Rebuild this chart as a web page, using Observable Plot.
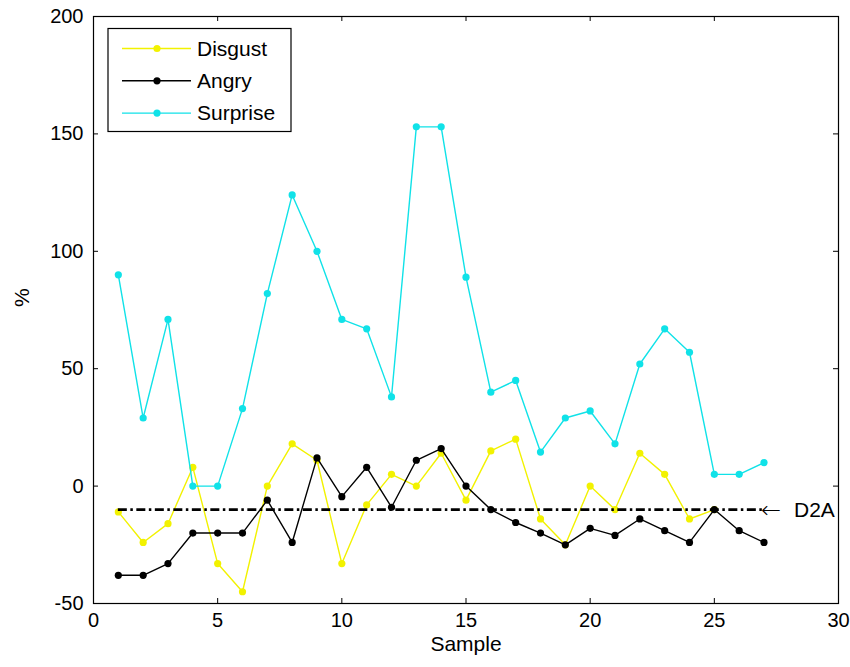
<!DOCTYPE html>
<html><head><meta charset="utf-8">
<script src="https://cdn.jsdelivr.net/npm/d3@7"></script>
<script src="https://cdn.jsdelivr.net/npm/@observablehq/plot@0.6"></script>
<style>body{margin:0;background:#fff}#chart svg{display:block}</style>
</head><body><div id="chart"></div>
<script>
const samples = [1,2,3,4,5,6,7,8,9,10,11,12,13,14,15,16,17,18,19,20,21,22,23,24,25,26,27];
const disgust = [-11,-24,-16,8,-33,-45,0,18,11,-33,-8,5,0,14,-6,15,20,-14,-25,0,-10,14,5,-14,-10];
const angry = [-38,-38,-33,-20,-20,-20,-6,-24,12,-4.5,8,-9,11,16,0,-10,-15.5,-20,-25,-18,-21,-14,-19,-24,-10,-19,-24];
const surprise = [90,29,71,0,0,33,82,124,100,71,67,38,153,153,89,40,45,14.5,29,32,18,52,67,57,5,5,10];
const d2aLevel = -10;
const d2aArrow = "\u2190";
const d2aLabel = "D2A";
const seriesNames = ["Disgust", "Angry", "Surprise"];
const seriesColors = ["#f2f200", "#000000", "#10e2e8"];
const xTicks = [0, 5, 10, 15, 20, 25, 30];
const yTicks = [-50, 0, 50, 100, 150, 200];
const xLabel = "Sample";
const yLabel = "%";

const seriesValues = [disgust, angry, surprise];
const series = seriesNames.map((name, k) => ({
  name, color: seriesColors[k],
  rows: seriesValues[k].map((v, i) => ({sample: samples[i], value: v}))
}));

const W = 850, H = 667, mL = 93, mR = 12, mT = 16, mB = 64;
const fw = W - mL - mR, fh = H - mT - mB, tk = 5;
const font = "'Liberation Sans', Arial, Helvetica, sans-serif";
const lastSample = samples[samples.length - 1];

const plot = Plot.plot({
  width: W, height: H,
  marginLeft: mL, marginRight: mR, marginTop: mT, marginBottom: mB,
  style: {fontFamily: font, fontSize: "20px", background: "#fff", color: "#000"},
  x: {domain: [0, 30]},
  y: {domain: [-50, 200]},
  marks: [
    Plot.axisX(xTicks, {tickSize: 0, tickPadding: 9, label: null, tickFormat: d => String(d)}),
    Plot.axisY(yTicks, {tickSize: 0, tickPadding: 10, label: null, tickFormat: d => String(d)}),
    Plot.ruleX(xTicks, {x: d => d, insetTop: fh - tk, stroke: "#000"}),
    Plot.ruleX(xTicks, {x: d => d, insetBottom: fh - tk, stroke: "#000"}),
    Plot.ruleY(yTicks, {y: d => d, insetRight: fw - tk, stroke: "#000"}),
    Plot.ruleY(yTicks, {y: d => d, insetLeft: fw - tk, stroke: "#000"}),
    ...series.flatMap(s => [
      Plot.line(s.rows, {x: "sample", y: "value", stroke: s.color, strokeWidth: 1.4}),
      Plot.dot(s.rows, {x: "sample", y: "value", fill: s.color, r: 3.6})
    ]),
    Plot.ruleY([d2aLevel], {y: d => d, x1: samples[0], x2: lastSample,
      stroke: "#000", strokeWidth: 2.8, strokeDasharray: "9,3.5,2.5,3.5"}),
    Plot.text([d2aArrow], {x: lastSample, y: d2aLevel, text: d => d, textAnchor: "start",
      dx: -3, dy: 1, fontSize: 24, fontFamily: "'DejaVu Sans'", fontWeight: 300, fill: "#000"}),
    Plot.text([d2aLabel], {x: lastSample, y: d2aLevel, text: d => d,
      textAnchor: "start", dx: 30, dy: 1, fontSize: 21, fill: "#000"}),
    Plot.text([xLabel], {frameAnchor: "bottom", text: d => d, dy: 47, fontSize: 21, fill: "#000"}),
    Plot.text([yLabel], {frameAnchor: "left", text: d => d, dx: -71, dy: -3, rotate: -90, fontSize: 21, fill: "#000"}),
    Plot.frame({stroke: "#000", strokeWidth: 1.2})
  ]
});

// legend (inside the plot area, top-left)
const svg = d3.select(plot);
const lg = svg.append("g").attr("transform", `translate(${mL + 15},${mT + 12.5})`);
lg.append("rect").attr("width", 183).attr("height", 103).attr("fill", "#fff").attr("stroke", "#000").attr("stroke-width", 1.2);
series.forEach((s, i) => {
  const yy = 20 + i * 32.3;
  lg.append("line").attr("x1", 14).attr("x2", 83).attr("y1", yy).attr("y2", yy)
    .attr("stroke", s.color).attr("stroke-width", 1.4);
  lg.append("circle").attr("cx", 49).attr("cy", yy).attr("r", 3.6).attr("fill", s.color);
  lg.append("text").attr("x", 89).attr("y", yy).attr("dy", "0.35em").attr("text-anchor", "start")
    .attr("font-size", 21).attr("font-family", font).attr("fill", "#000").text(s.name);
});

document.getElementById("chart").appendChild(plot);
</script>
</body></html>
